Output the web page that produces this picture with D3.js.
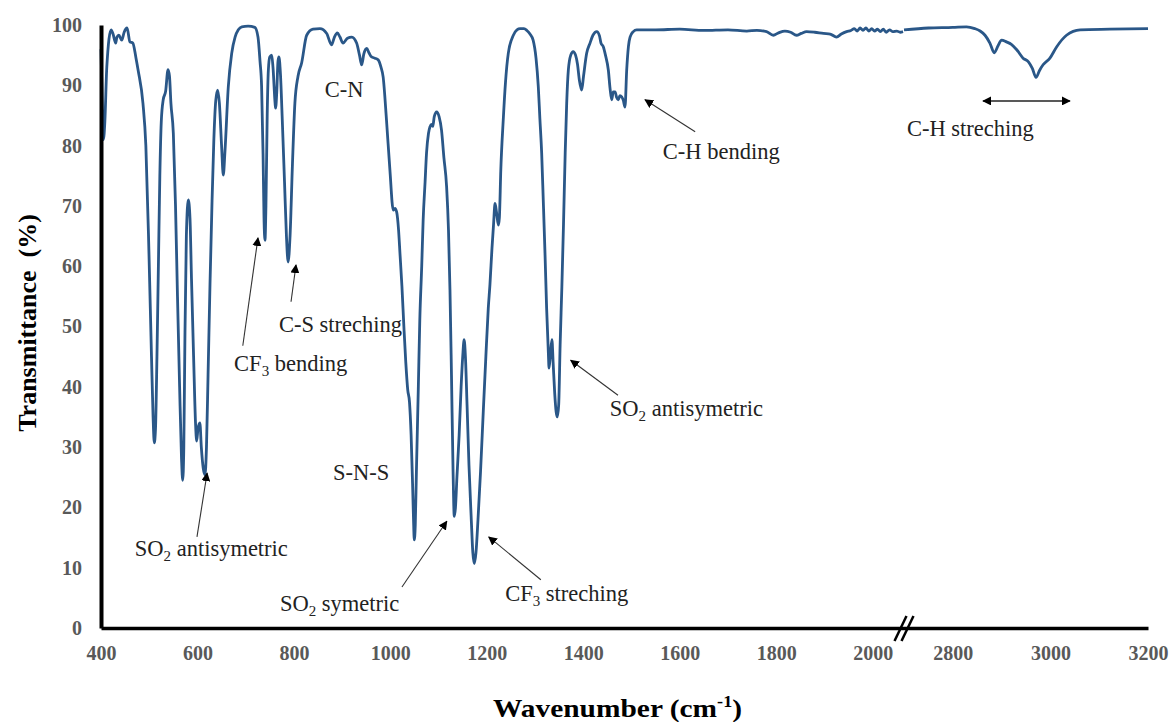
<!DOCTYPE html>
<html>
<head>
<meta charset="utf-8">
<script src="https://cdn.jsdelivr.net/npm/d3@7"></script>
<style>
  html, body { margin: 0; padding: 0; background: #fff; }
  svg { display: block; }
  text { font-family: "Liberation Serif", "Times New Roman", serif; }
</style>
</head>
<body>
<svg id="chart" width="1173" height="722"></svg>
<script>
// ---------- data ----------
const lowWavenumber = [400,403,405,408,412,421,425,430.5,433,437,443,448,454,460,466,472.6,477,487,493,499.5,504.7,508,510.5,513,516,519,522,525,529,534,539,542,545,550,554.5,558.6,563,567,569.4,571.7,574,577,581,584.5,587.6,592,596,598.4,601,605,608,612,615.6,618.7,622,626,630,634,638,642,645.5,650,653.6,657,664,671,678,684.7,692,705,719,725.5,729.7,733,736,738,740,742,744.6,747,750,754,756.6,761,762,764.5,767,769,772,776,780.5,784.5,788,792,797,802,808.5,816,826.5,839.6,854,868,878,884,890,895.5,902,911,920,930,936,940.5,945,951,955.6,961,968,975,980.5,985,992,999,1006,1009.6,1013,1017,1020,1024,1028,1032,1036,1039.6,1043,1046,1048,1049.6,1051.6,1054,1058,1061,1065,1068,1072,1075,1079,1082,1085.6,1088,1091,1096,1101,1106,1111,1116.6,1120.5,1123.6,1126.7,1130,1132.5,1135,1138,1142.6,1146.7,1150,1153,1155.6,1159,1163,1167.5,1171,1174,1177.5,1181.7,1187,1192.7,1198,1203,1206.5,1210.7,1214,1217,1220,1224,1226,1229,1234,1238.7,1244.5,1255,1262.5,1269,1277,1283,1289.5,1296,1302,1306.7,1310,1313.7,1317,1320.6,1324,1327.6,1329,1332,1335,1337.5,1340.7,1343.8,1346,1349,1352,1355.6,1359,1362.5,1365.6,1369,1374,1379,1384,1388,1392,1396.7,1400.5,1407,1414,1420,1428,1433.6,1436.7,1441.5,1446,1452,1455.5,1459,1462,1466,1469,1472.6,1476,1479.6,1483,1486.5,1490,1493.7,1497,1503.7,1510.7,1550,1600,1650,1700,1739,1760,1780,1794,1805,1818,1830,1842,1852,1863,1880,1898,1912,1925,1935,1946,1955,1962,1968,1974,1980,1986,1992,1998,2004,2010,2016,2022,2028,2035,2042,2050,2057,2063];
const lowTransmittance = [96,86,81,84,93,99.2,98.5,97,98,98.3,97.5,98.8,99.5,97.2,97,94.5,92.5,87,80,62,45,35,30.7,33,45,60,75,84,87.6,89,92.6,91.5,87,82,70,55,40,28,24.5,30,48,65,71,68,58,45,34,31,33,34,30,26.5,25.4,30,42,57,70,81,87.5,89.2,87,80,75.1,79,89.8,95.3,98,99.2,99.7,99.8,99.6,98,94,89.8,78.7,68,64.3,70,85,92.5,94.7,95,93,87,86.2,89,94,94.7,92,84,74,65,60.7,65,77,87,91.5,93.7,98.3,99.3,99.4,98.6,96.7,98,98.7,98,97,97.8,98,97,95,93.4,95.2,96.1,95.4,94.7,94.5,94.2,93,91.4,84.2,76,69.3,69.6,69,66,62,56.6,50,44,39.5,37.5,32,24,18,14.6,17,26,40,51,60,67.7,74,78.8,82,83.1,83.5,83.2,84.8,85.6,84.8,82.6,78,73.2,66,56,42,26,18.5,20,25,32,40,45,47.8,45,37,27,18.5,12.5,10.7,12.5,18,26,36,45,53,57,63,67,70.4,69,66.8,68,76,84.2,90.5,95.3,98.3,99.2,99.4,99.4,99.1,98.5,97.5,94.5,89.8,84.5,78.8,71,62.2,53,45.6,43.1,45.5,47.8,44,39,35.8,35,37,47,56.6,67,78.8,87,92.5,95,95.6,95,93.5,90.8,89.2,91.5,95.3,97,98.3,98.9,98.2,97,96.4,95,92.5,89.5,87.6,88.9,88.9,88,87.6,88.3,88.1,87.5,86.4,92.5,96.5,98,98.9,99.2,99.2,99.3,99.1,99.2,99,99.1,98.9,98.3,98.7,99,98.8,98.3,98.6,98.9,98.8,98.6,98.5,98,98.5,98.9,99.1,99.4,99,99.5,99.1,99.5,99,99.4,99,99.3,98.9,99.3,98.8,99.2,98.9,99,98.8,98.9];
const highWavenumber = [2700,2750,2800,2828,2845,2856,2866,2876,2885,2893,2900,2910,2920,2931,2944,2955,2963,2970.5,2978,2985,2999,3013,3033,3061,3122,3200];
const highTransmittance = [99.2,99.5,99.6,99.7,99.4,99,98.3,97,95.4,96.6,97.5,97.2,96.8,95.9,94.5,93.9,92.8,91.3,92.5,93.4,94.5,96.4,98.3,99.2,99.3,99.4];

const xTickValues = [400,600,800,1000,1200,1400,1600,1800,2000,2800,3000,3200];
const yTickValues = [0,10,20,30,40,50,60,70,80,90,100];

// annotations in data units: [wavenumber, transmittance]
const labelTexts = ["C-N","C-H bending","C-H streching","C-S streching","CF|3| bending","S-N-S","SO|2| antisymetric","SO|2| symetric","CF|3| streching","SO|2| antisymetric"];
const labelAnchors = [[864,88.0],[1565,77.8],[2706,81.6],[769,49.1],[676,42.6],[881,24.5],[470,11.9],[771,2.8],[1238,4.5],[1455,35.1]];
const arrowFrom = [[599,15.1],[1024,6.8],[1312,8.0],[1472,38.6],[1632,82.3],[694,46.8],[794,54.1]];
const arrowTo   = [[620,25.7],[1117,17.7],[1204,15.1],[1374,44.4],[1528,87.6],[725.5,64.7],[804.3,60.2]];
const doubleArrow = [[2862,87.4],[3040,87.4]];

// ---------- layout ----------
const svg = d3.select("#chart");
const x = d3.scaleLinear().domain([400, 2065, 2700, 3200]).range([101, 904, 904, 1148]);
const y = d3.scaleLinear().domain([0, 100]).range([628, 25]);
const lineColor = "#2a5788";

// arrow marker
const defs = svg.append("defs");
defs.append("marker").attr("id","ah").attr("viewBox","0 0 10 10").attr("refX",9).attr("refY",5)
  .attr("markerWidth",9).attr("markerHeight",9).attr("markerUnits","userSpaceOnUse").attr("orient","auto-start-reverse")
  .append("path").attr("d","M0,0 L10,5 L0,10 z").attr("fill","#000");

// spectrum
const line = d3.line().x(d => x(d[0])).y(d => y(d[1])).curve(d3.curveMonotoneX);
const lowData = lowWavenumber.map((w,i) => [w, lowTransmittance[i]]);
const highData = highWavenumber.map((w,i) => [w, highTransmittance[i]]);
[lowData, highData].forEach(dd => {
  svg.append("path").datum(dd).attr("d", line).attr("fill","none")
    .attr("stroke", lineColor).attr("stroke-width", 2.8).attr("stroke-linejoin","round");
});

// axes
const xAxis = svg.append("g").attr("transform", `translate(0,${y(0)})`)
  .call(d3.axisBottom(x).tickValues(xTickValues).tickSize(0).tickPadding(20).tickSizeOuter(0).tickFormat(d3.format("d")));
xAxis.select(".domain").attr("stroke","#000").attr("stroke-width",3.5);
xAxis.selectAll("text").attr("fill","#595959").attr("font-size",20).attr("font-weight","bold")
  .attr("font-family","Liberation Serif, serif").attr("dy","0.62em");

const yAxis = svg.append("g").attr("transform", `translate(${x(400)},0)`)
  .call(d3.axisLeft(y).tickValues(yTickValues).tickSize(0).tickPadding(19).tickSizeOuter(0));
yAxis.select(".domain").attr("stroke","#000").attr("stroke-width",4);
yAxis.selectAll("text").attr("fill","#595959").attr("font-size",20).attr("font-weight","bold")
  .attr("font-family","Liberation Serif, serif");

// axis break marks
const bx = x(2065);
[-3.5, 3.5].forEach(off => {
  svg.append("line").attr("x1", bx + off - 6).attr("y1", y(0) + 13).attr("x2", bx + off + 6).attr("y2", y(0) - 12)
    .attr("stroke","#000").attr("stroke-width",2.5);
});

// axis titles
const xt = svg.append("text").attr("x", 493).attr("y", 717)
  .attr("font-size",26).attr("font-weight","bold").attr("fill","#000")
  .attr("textLength", 249).attr("lengthAdjust","spacingAndGlyphs");
xt.append("tspan").text("Wavenumber (cm");
xt.append("tspan").attr("dy",-10).attr("font-size",16).text("-1");
xt.append("tspan").attr("dy",10).text(")");

svg.append("text").attr("transform","translate(36,323) rotate(-90)").attr("text-anchor","middle")
  .attr("font-size",26).attr("font-weight","bold").attr("fill","#000")
  .style("white-space","pre").text("Transmittance  (%)");

// annotation labels
labelTexts.forEach((t, i) => {
  const parts = t.split("|");
  const tx = svg.append("text").attr("x", x(labelAnchors[i][0])).attr("y", y(labelAnchors[i][1]))
    .attr("font-size",22.5).attr("fill","#222");
  if (parts.length === 1) { tx.text(t); }
  else {
    tx.append("tspan").text(parts[0]);
    tx.append("tspan").attr("dy",5).attr("font-size",15).text(parts[1]);
    tx.append("tspan").attr("dy",-5).text(parts[2]);
  }
});

// arrows
arrowFrom.forEach((f, i) => {
  svg.append("line").attr("x1", x(f[0])).attr("y1", y(f[1]))
    .attr("x2", x(arrowTo[i][0])).attr("y2", y(arrowTo[i][1]))
    .attr("stroke","#333").attr("stroke-width",1.1).attr("marker-end","url(#ah)");
});
svg.append("line").attr("x1", x(doubleArrow[0][0])).attr("y1", y(doubleArrow[0][1]))
  .attr("x2", x(doubleArrow[1][0])).attr("y2", y(doubleArrow[1][1]))
  .attr("stroke","#222").attr("stroke-width",1.6)
  .attr("marker-start","url(#ah)").attr("marker-end","url(#ah)");
</script>
</body>
</html>
